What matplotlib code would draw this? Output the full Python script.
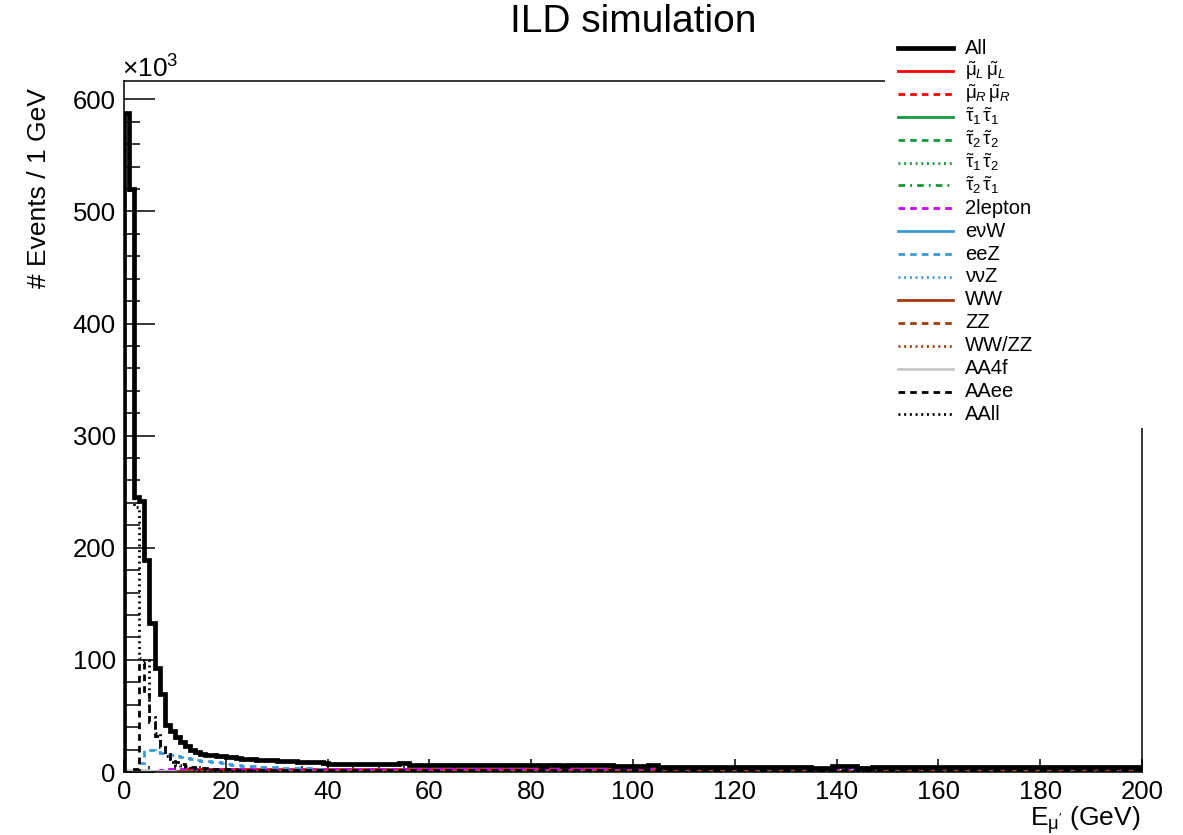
import numpy as np
import matplotlib
matplotlib.use("Agg")
import matplotlib.pyplot as plt
from matplotlib.lines import Line2D
from matplotlib.patches import Rectangle
from matplotlib.ticker import MultipleLocator

plt.rcParams['font.family'] = ['Liberation Sans', 'DejaVu Sans']
plt.rcParams['mathtext.fontset'] = 'custom'
plt.rcParams['mathtext.rm'] = 'Liberation Sans'
plt.rcParams['mathtext.it'] = 'Liberation Sans:italic'
plt.rcParams['mathtext.bf'] = 'Liberation Sans:bold'
plt.rcParams['lines.scale_dashes'] = False

# ---------------- data (events per 1 GeV bin, in units of 10^3) ----------------
bin_lo, bin_hi, bin_width = 0, 200, 1

all_evt = [
    588, 520, 245, 242, 189, 133, 93, 70, 42, 37,
    31, 27, 23, 20, 18, 16.5, 15.5, 15, 14.5, 14,
    13.5, 13, 12.5, 12, 11.5, 11.5, 11, 11, 10.5, 10.5,
    10, 9.8, 9.6, 9.4, 9.3, 9.2, 9.2, 9.1, 9.0, 7.6,
    7.5, 7.5, 7.4, 7.4, 7.4, 7.4, 7.3, 7.3, 7.3, 7.2,
    7.2, 7.2, 6.8, 6.8, 8.0, 8.0, 6.1, 6.0, 6.0, 6.1,
    6.0, 6.0, 6.0, 6.0, 6.1, 6.0, 6.0, 6.0, 6.0, 6.0,
    6.0, 6.0, 6.0, 6.0, 6.0, 6.0, 6.0, 6.0, 6.0, 6.0,
    6.0, 6.0, 5.2, 6.2, 6.2, 6.2, 5.2, 6.0, 6.0, 6.0,
    6.0, 6.0, 6.0, 6.0, 6.0, 6.0, 5.3, 5.3, 5.3, 5.3,
    5.3, 5.3, 5.3, 6.0, 6.0, 4.6, 4.6, 4.6, 4.6, 4.6,
    4.6, 4.6, 4.6, 4.6, 4.6, 4.6, 4.6, 4.6, 4.6, 4.6,
    4.6, 4.6, 4.6, 4.6, 4.6, 4.6, 4.6, 4.6, 4.6, 4.6,
    4.6, 4.6, 4.6, 4.6, 4.6, 4.0, 4.0, 4.0, 4.0, 5.0,
    5.0, 5.0, 5.0, 5.0, 4.0, 4.0, 4.0, 4.6, 4.6, 4.6,
    4.6, 4.6, 4.6, 4.6, 4.6, 4.8, 4.8, 4.8, 4.8, 4.2,
    4.2, 4.2, 4.2, 4.2, 4.2, 4.2, 4.2, 4.2, 4.2, 4.2,
    4.2, 4.2, 4.2, 4.2, 4.2, 4.2, 4.2, 4.2, 4.2, 4.2,
    4.2, 4.2, 4.2, 4.2, 4.2, 4.2, 4.2, 4.2, 4.2, 4.2,
    4.2, 4.2, 4.2, 4.2, 4.2, 4.2, 4.2, 4.2, 4.2, 4.2,
]

smuL = [0] * 12 + [3.0] * 110 + [0] * 78
smuR = [0] * 14 + [2.0] * 106 + [0] * 80
stau11 = [0, 0.3, 0.8, 1.0, 1.0, 1.0, 1.0, 0.9, 0.9, 0.8] + [0.7] * 50 + [0] * 140
stau22 = [0, 0.1, 0.3, 0.4, 0.4, 0.4, 0.4, 0.4, 0.3, 0.3] + [0.3] * 70 + [0] * 120
stau12 = [0, 0.1, 0.2, 0.3, 0.3, 0.3, 0.3, 0.3, 0.3, 0.3] + [0.2] * 60 + [0] * 130
stau21 = [0, 0.1, 0.2, 0.3, 0.3, 0.3, 0.3, 0.3, 0.3, 0.3] + [0.2] * 60 + [0] * 130
lep2 = [0.2, 0.4, 0.5, 0.5, 0.6, 0.8, 1.2, 2.0, 2.5, 2.6] + [2.5] * 90 + [2.4] * 100
enuW = [0.1, 0.3, 0.5, 0.8, 1.0, 1.0, 1.0, 1.0, 1.0, 1.0] + [0.9] * 90 + [0.7] * 100
eeZ = [0, 0.5, 2, 8, 20, 20, 18, 17, 16, 15,
       14, 13.7, 12.5, 11.5, 10.5, 10, 9.5, 9.2, 8.5, 7.7,
       7.2, 6.5, 6.0, 5.7, 5.3, 5.0, 4.8, 4.7, 4.5, 4.3,
       4.2, 4.0, 3.9, 3.9, 3.8, 3.6, 3.4, 3.3, 3.0, 2.8] + [2.2] * 60 + [1.8] * 100
nunuZ = [0, 0.1, 0.2, 0.3, 0.4, 0.5, 0.5, 0.5, 0.5, 0.5] + [0.4] * 90 + [0.3] * 100
WW = [0, 0, 0.1, 0.2, 0.3, 0.4, 0.5, 0.5, 0.5, 0.5] + [0.5] * 190
ZZ = [0, 0, 0.1, 0.1, 0.2, 0.2, 0.3, 0.3, 0.3, 0.3] + [0.3] * 190
WWZZ = [0, 0, 0.1, 0.1, 0.1, 0.2, 0.2, 0.2, 0.2, 0.2] + [0.2] * 190
AA4f = [1.5, 1.6, 1.6, 1.5, 1.4, 1.3, 1.2, 1.1, 1.0, 0.9] + [0.4] * 30 + [0.2] * 160
AAee = [0, 0, 3, 97, 70, 45, 32, 24, 16, 12,
        9, 7, 5.5, 4.5, 4.0, 3.5, 3.2, 3.0, 2.8, 2.6,
        2.4, 2.3, 2.2, 2.2, 2.1, 2.1, 2.0, 2.0, 2.0, 2.0] + [1.8] * 170
AAll = [585, 517, 236, 102, 100, 49, 35, 22, 14, 9,
        6, 4.5, 3.5, 2.8, 2.2, 1.8, 1.5, 1.2, 1.0, 0.9,
        0.8, 0.8, 0.7, 0.7, 0.6, 0.6, 0.6, 0.5, 0.5, 0.5] + [0.4] * 170

labels = ["All",
          r"$\tilde{\mathrm{\mu}}_{L}\,\tilde{\mathrm{\mu}}_{L}$",
          r"$\tilde{\mathrm{\mu}}_{R}\,\tilde{\mathrm{\mu}}_{R}$",
          r"$\tilde{\mathrm{\tau}}_{1}\,\tilde{\mathrm{\tau}}_{1}$",
          r"$\tilde{\mathrm{\tau}}_{2}\,\tilde{\mathrm{\tau}}_{2}$",
          r"$\tilde{\mathrm{\tau}}_{1}\,\tilde{\mathrm{\tau}}_{2}$",
          r"$\tilde{\mathrm{\tau}}_{2}\,\tilde{\mathrm{\tau}}_{1}$",
          "2lepton", "eνW", "eeZ", "ννZ", "WW", "ZZ", "WW/ZZ",
          "AA4f", "AAee", "AAll"]
series = [all_evt, smuL, smuR, stau11, stau22, stau12, stau21, lep2,
          enuW, eeZ, nunuZ, WW, ZZ, WWZZ, AA4f, AAee, AAll]

# ---------------- styles ----------------
RED, GREEN, MAG, BLUE, BROWN, GRAY = '#ff0000', '#14993a', '#cc00ff', '#3a9ad8', '#a33b0b', '#c8c8c8'
SOLID = '-'
DASH = (0, (4.8, 3.6))
DOT = (0, (1.4, 2.7))
DASHDOT = (0, (4.8, 3.6, 1.4, 3.6))
LW_ALL, LW = 3.4, 2.0
styles = [('k', SOLID, LW_ALL), (RED, SOLID, LW), (RED, DASH, LW),
          (GREEN, SOLID, LW), (GREEN, DASH, LW), (GREEN, DOT, LW), (GREEN, DASHDOT, LW),
          (MAG, DASH, LW), (BLUE, SOLID, LW), (BLUE, DASH, LW), (BLUE, DOT, LW),
          (BROWN, SOLID, LW), (BROWN, DASH, LW), (BROWN, DOT, LW),
          (GRAY, SOLID, LW), ('k', DASH, LW), ('k', DOT, LW)]

W, H = 1183, 835
fig = plt.figure(figsize=(W / 100, H / 100), dpi=100)
ax = fig.add_axes([124 / W, 1 - 772 / H, (1142 - 124) / W, (772 - 81) / H])

edges = np.arange(bin_lo, bin_hi + bin_width, bin_width)
order = list(range(1, len(series))) + [0]
for i in order:
    c, ls, lw = styles[i]
    ax.stairs(series[i], edges, baseline=0, color=c, linestyle=ls, linewidth=lw,
              zorder=3 if i == 0 else 2)

ax.set_xlim(0, 200)
ax.set_ylim(0, 616.3)
ax.xaxis.set_major_locator(MultipleLocator(20))
ax.xaxis.set_minor_locator(MultipleLocator(5))
ax.yaxis.set_major_locator(MultipleLocator(100))
ax.yaxis.set_minor_locator(MultipleLocator(20))
ax.tick_params(axis='both', which='both', direction='in', width=1.1, top=False, right=False,
               labelsize=18.5, colors='black')
ax.tick_params(axis='x', which='major', length=9.5, pad=6)
ax.tick_params(axis='x', which='minor', length=4.5)
ax.tick_params(axis='y', which='major', length=22.5, pad=6)
ax.tick_params(axis='y', which='minor', length=11.5)
for s in ax.spines.values():
    s.set_linewidth(1.1)

# texts
fig.text(633 / W, 1 - 22 / H, "ILD simulation", ha='center', va='center', fontsize=28)
fig.text(39 / W, 1 - 88 / H, "# Events / 1 GeV", rotation=90, ha='center', va='top', fontsize=19)
fig.text(1140 / W, 1 - 826 / H, r"E$_{\mathrm{\mu'}}$ (GeV)", ha='right', va='baseline', fontsize=19)
fig.text(122 / W, 1 - 78 / H, r"$\times$10$^{3}$", ha='left', va='baseline', fontsize=19)

# legend box (white, covers the frame like the original)
box = Rectangle((885 / W, 1 - 428 / H), (W - 885) / W, (428 - 25) / H,
                transform=fig.transFigure, facecolor='white', edgecolor='none', zorder=10)
fig.add_artist(box)
for i, lab in enumerate(labels):
    y = 1 - (48 + i * 22.9) / H
    c, ls, lw = styles[i]
    fig.add_artist(Line2D([898 / W, 953 / W], [y, y], transform=fig.transFigure,
                          color=c, linestyle=ls, linewidth=lw, zorder=11))
    fig.text(965 / W, y, lab, ha='left', va='center', fontsize=14.5 if i == 0 or i > 6 else 13.5,
             zorder=12)

fig.savefig("out.png", dpi=100)
